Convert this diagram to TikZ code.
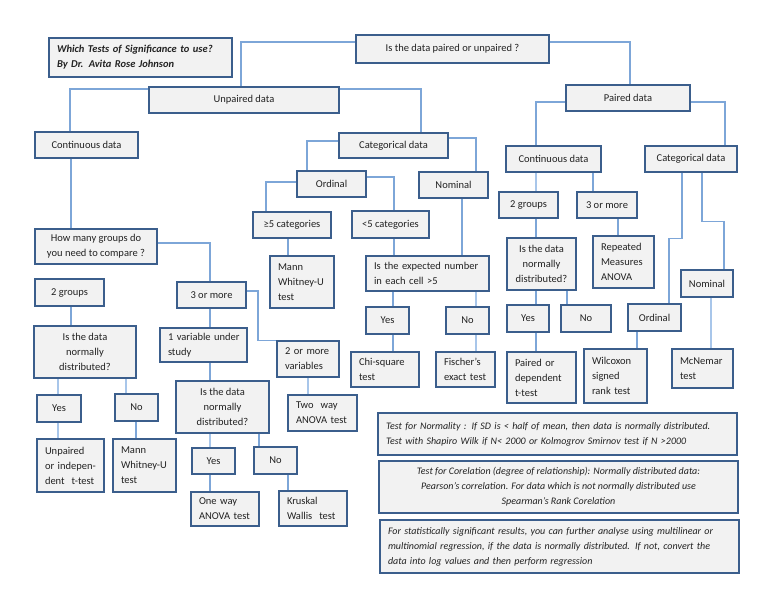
\documentclass[tikz,border=0pt]{standalone}
\usepackage{fontspec}
\setmainfont{Carlito}
\definecolor{bxline}{HTML}{3B5E8C}
\definecolor{bxfill}{HTML}{F2F2F2}
\definecolor{cnline}{HTML}{7DA6D8}
\definecolor{cnlight}{HTML}{A8C6EA}
\definecolor{txt}{HTML}{222222}
\tikzset{
  box/.style={draw=bxline,fill=bxfill,line width=1.5pt,inner xsep=8pt,inner ysep=2pt,
    font=\fontsize{10.5}{15}\selectfont,text=txt,align=center},
  ital/.style={font=\fontsize{10}{15}\selectfont\itshape},
  conn/.style={draw=cnline,line width=1.1pt},
  light/.style={draw=cnlight}
}
% centred text box, no wrapping
\newcommand\bxnode[7]{%
  \pgfmathsetmacro\bxw{#4-#2}\pgfmathsetmacro\bxh{#5-#3}%
  \node[box,minimum width=\bxw pt,minimum height=\bxh pt,#6] (#1) at ({(#2+#4)/2},{(#3+#5)/2}) {#7};}
% left-aligned text box
\newcommand\bxleft[7]{%
  \pgfmathsetmacro\bxw{#4-#2}\pgfmathsetmacro\bxh{#5-#3}\pgfmathsetmacro\bxt{#4-#2-16}%
  \node[box,minimum width=\bxw pt,minimum height=\bxh pt,text width=\bxt pt,align=left,#6] (#1) at ({(#2+#4)/2},{(#3+#5)/2}) {#7};}
\newcommand\vconn[4][]{\draw[conn,#1] (#2.south -| #4,0) -- (#3.north -| #4,0);}
\begin{document}
\begin{tikzpicture}[x=1pt,y=-1pt]
\useasboundingbox (0,0) rectangle (768,594);
\bxleft{title}{49}{38}{232}{77}{font=\fontsize{10.5}{15}\selectfont\bfseries\itshape}{\mbox{Which Tests of Significance to use?}\\\mbox{By Dr. Avita Rose Johnson}}
\bxnode{q}{356}{35}{549}{63}{}{Is the data paired or unpaired ?}
\bxnode{unp}{149}{87}{339}{113}{}{Unpaired data}
\bxnode{pd}{566}{85}{690}{111}{}{Paired data}
\bxnode{cont}{35}{132}{138}{158}{}{Continuous data}
\bxnode{cat}{339}{133}{448}{158}{}{Categorical data}
\bxnode{pc}{506}{146}{601}{172}{}{Continuous data}
\bxnode{pcat}{645}{146}{737}{172}{}{Categorical data}
\bxnode{ord}{297}{171}{366}{197}{}{Ordinal}
\bxnode{nom}{419}{172}{488}{198}{}{Nominal}
\bxnode{ge5}{253}{212}{331}{238}{}{≥5 categories}
\bxnode{lt5}{352}{211}{429}{238}{}{<5 categories}
\bxnode{g2}{499}{192}{558}{218}{}{2 groups}
\bxnode{g3}{577}{192}{637}{218}{}{3 or more}
\bxnode{how}{35}{229}{157}{264}{}{How many groups do\\you need to compare ?}
\bxleft{mw1}{270}{256}{334}{308}{}{Mann\\Whitney-U\\test}
\bxleft{exp}{366}{256}{489}{291}{}{\mbox{Is the expected number}\\\mbox{in each cell >5}}
\bxnode{nd3}{507}{238}{576}{290}{}{Is the data\\normally\\distributed?}
\bxleft{rma}{593}{236}{654}{288}{}{Repeated\\Measures\\ANOVA}
\bxnode{pnom}{681}{270}{733}{297}{}{Nominal}
\bxnode{twoL}{35}{279}{104}{306}{}{2 groups}
\bxnode{three}{177}{282}{246}{308}{}{3 or more}
\bxnode{yes4}{507}{305}{549}{332}{}{Yes}
\bxnode{no4}{561}{305}{611}{332}{}{No}
\bxnode{pord}{628}{304}{681}{331}{}{Ordinal}
\bxnode{yes3}{366}{307}{409}{334}{}{Yes}
\bxnode{no3}{446}{307}{489}{334}{}{No}
\bxnode{nd1}{34}{326}{136}{378}{}{Is the data\\normally\\distributed?}
\bxleft{var1}{160}{328}{247}{362}{}{\mbox{1 variable under}\\study}
\bxleft{var2}{277}{341}{339}{377}{}{\mbox{2 or more}\\variables}
\bxleft{chi}{351}{352}{419}{387}{}{Chi-square\\test}
\bxleft{fis}{436}{352}{495}{387}{}{Fischer’s\\\mbox{exact test}}
\bxleft{pdt}{507}{352}{576}{403}{}{\mbox{Paired or}\\dependent\\t-test}
\bxleft{wil}{584}{349}{647}{403}{}{Wilcoxon\\signed\\\mbox{rank test}}
\bxleft{mcn}{672}{349}{733}{388}{}{McNemar\\test}
\bxnode{nd2}{176}{381}{269}{433}{}{Is the data\\normally\\distributed?}
\bxnode{yes1}{37}{395}{81}{422}{}{Yes}
\bxnode{no1}{115}{394}{158}{421}{}{No}
\bxleft{tw}{288}{395}{357}{431}{}{\mbox{Two\ \ way}\\\mbox{ANOVA test}}
\bxleft{ut}{37}{439}{104}{492}{}{Unpaired\\\mbox{or indepen-}\\\mbox{dent\ \ t-test}}
\bxleft{mw2}{113}{439}{176}{492}{}{Mann\\Whitney-U\\test}
\bxnode{yes2}{192}{448}{235}{474}{}{Yes}
\bxnode{no2}{254}{447}{297}{474}{}{No}
\bxleft{ow}{191}{492}{259}{526}{}{\mbox{One way}\\\mbox{ANOVA test}}
\bxleft{kw}{279}{491}{347}{526}{}{Kruskal\\\mbox{Wallis\ \ test}}
\bxleft{norm}{378}{413}{737}{455}{ital}{Test for Normality : If SD is < half of mean, then data is normally distributed.\\Test with Shapiro Wilk if N< 2000 or Kolmogrov Smirnov test if N >2000}
\bxnode{corr}{379}{461}{738}{513}{ital}{Test for Corelation (degree of relationship): Normally distributed data:\\Pearson’s correlation. For data which is not normally distributed use\\Spearman’s Rank Corelation}
\bxleft{reg}{380}{520}{739}{573}{ital}{For statistically significant results, you can further analyse using multilinear or\\multinomial regression, if the data is normally distributed. If not, convert the\\data into log values and then perform regression}
% connectors
\draw[conn] (q.west |- 0,42) -| (unp.north -| 241,0);
\draw[conn] (q.east |- 0,42) -| (pd.north -| 630,0);
\draw[conn] (unp.west |- 0,89) -| (cont.north -| 70,0);
\draw[conn] (unp.east |- 0,89) -| (cat.north -| 421,0);
\draw[conn] (cat.west |- 0,141) -| (ord.north -| 307,0);
\draw[conn] (cat.east |- 0,138) -| (nom.north -| 476,0);
\draw[conn] (ord.west |- 0,182) -| (ge5.north -| 266,0);
\draw[conn] (ord.east |- 0,177) -| (lt5.north -| 394,0);
\vconn{ge5}{mw1}{288}
\vconn{lt5}{exp}{394}
\vconn{nom}{exp}{462}
\vconn{exp}{yes3}{393}
\vconn[light]{exp}{no3}{476}
\vconn{yes3}{chi}{393}
\vconn[light]{no3}{fis}{476}
\vconn{cont}{how}{71}
\draw[conn] (how.east |- 0,243) -| (three.north -| 210,0);
\vconn{twoL}{nd1}{71}
\vconn{three}{var1}{210}
\draw[conn] (three.east |- 0,291) -| (var2.north west -| 258,0) -- (var2.north west);
\vconn[light]{nd1}{yes1}{58}
\vconn[light]{nd1}{no1}{126}
\vconn[light]{yes1}{ut}{58}
\vconn{no1}{mw2}{136}
\vconn{var1}{nd2}{210}
\vconn[light]{nd2}{yes2}{210}
\vconn{nd2}{no2}{259}
\vconn{yes2}{ow}{210}
\vconn{no2}{kw}{288}
\vconn[light]{var2}{tw}{308}
\draw[conn] (pd.west |- 0,102) -| (pc.north -| 536,0);
\draw[conn] (pd.east |- 0,102) -| (pcat.north -| 725,0);
\vconn[light]{pc}{g2}{536}
\vconn{pc}{g3}{593}
\vconn{g2}{nd3}{536}
\vconn{g3}{rma}{618}
\vconn{nd3}{yes4}{536}
\vconn{nd3}{no4}{567}
\vconn{yes4}{pdt}{536}
\draw[conn] (pcat.south -| 682,0) -- ++(0,66) -| (pord.north -| 669,0);
\draw[conn] (pcat.south -| 702,0) -- ++(0,49) -| (pnom.north -| 724,0);
\vconn{pord}{wil}{637}
\vconn[light]{pnom}{mcn}{711}
\end{tikzpicture}
\end{document}
